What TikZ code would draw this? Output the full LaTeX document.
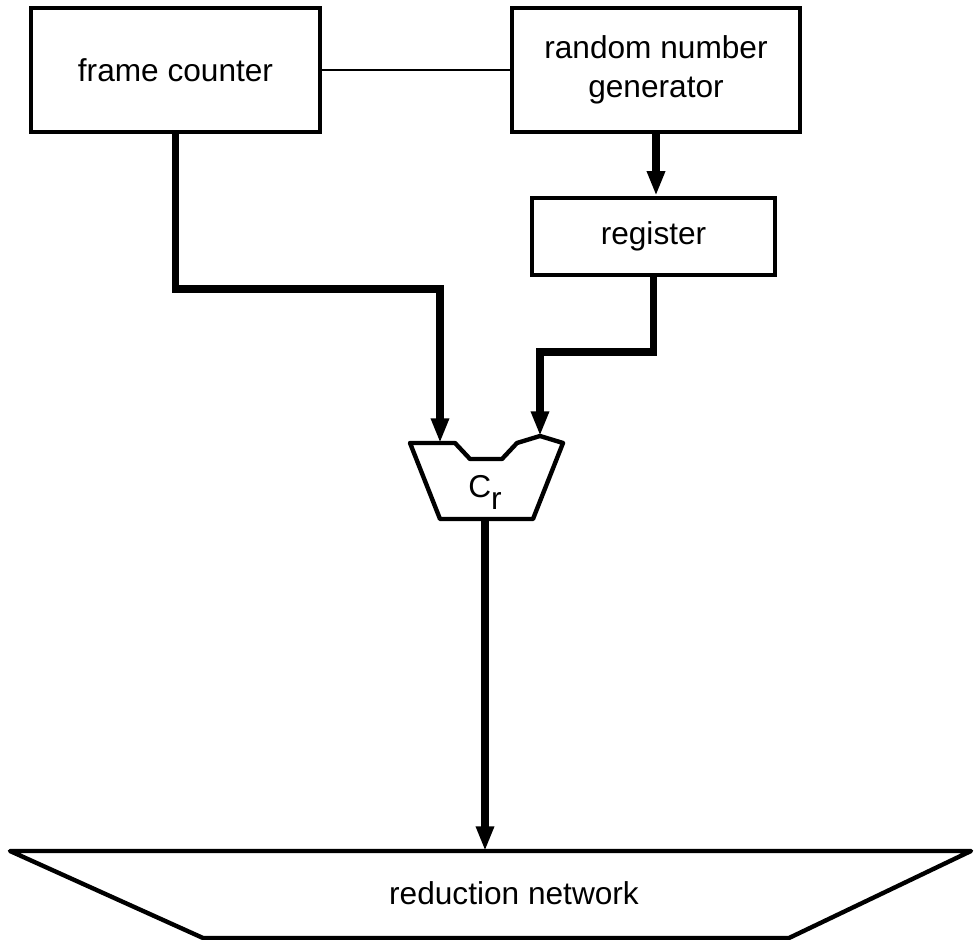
\documentclass[tikz,border=0pt]{standalone}
\usepackage{fontspec}
\setmainfont{Liberation Sans}
\usetikzlibrary{arrows.meta,calc}
\tikzset{
  every node/.style={font=\fontsize{18}{22.5}\selectfont},
  block/.style={draw=black, line width=2.5pt, align=center, inner sep=0pt},
  unit/.style={draw=black, line width=2.5pt, line join=round},
  bus/.style={-{Triangle[length=14pt,width=9.6pt]}, draw=black, line width=4pt},
  link/.style={draw=black, line width=1.1pt},
}
\begin{document}
\begin{tikzpicture}[x=1cm,y=1cm]
  \useasboundingbox (0,0) rectangle (19.52,18.8);
  % blocks
  \node[block, minimum width=5.78cm, minimum height=2.48cm] (fc) at (3.51,17.4) {frame counter};
  \node[block, minimum width=5.76cm, minimum height=2.48cm] (rng) at (13.12,17.4) {random number\\generator};
  \node[block, minimum width=4.86cm, minimum height=1.54cm] (reg) at (13.07,14.07) {register};
  % comparator
  \coordinate (inA) at (8.8,9.94);
  \coordinate (inB) at (10.8,10.08);
  \coordinate (outC) at (9.7,8.42);
  \draw[unit] (8.2,9.94) -- (inA) -- (9.1,9.94) -- (9.4,9.62) -- (10.04,9.62) -- (10.34,9.94)
    -- (inB) -- (11.26,9.94) -- (10.66,8.42) -- (8.8,8.42) -- cycle;
  \node[inner sep=0pt] (cr) at (9.7,8.95) {C\raisebox{-0.4em}{r}};
  % reduction network
  \coordinate (rnTop) at (9.7,1.78);
  \draw[unit] (0.2,1.78) -- (19.42,1.78) -- (15.78,0.04) -- (4.06,0.04) -- cycle;
  \node (rn) at (10.28,0.94) {reduction network};
  % connections
  \coordinate (kA) at (8.8,13.02);
  \coordinate (kB) at (10.8,11.76);
  \draw[link] (fc.east) -- (rng.west);
  \draw[bus] (rng.south) -- (rng.south |- reg.north);
  \draw[bus] (fc.south) |- (kA) -- (inA);
  \draw[bus] (reg.south) |- (kB) -- (inB);
  \draw[bus] (outC) -- (rnTop);
\end{tikzpicture}
\end{document}
